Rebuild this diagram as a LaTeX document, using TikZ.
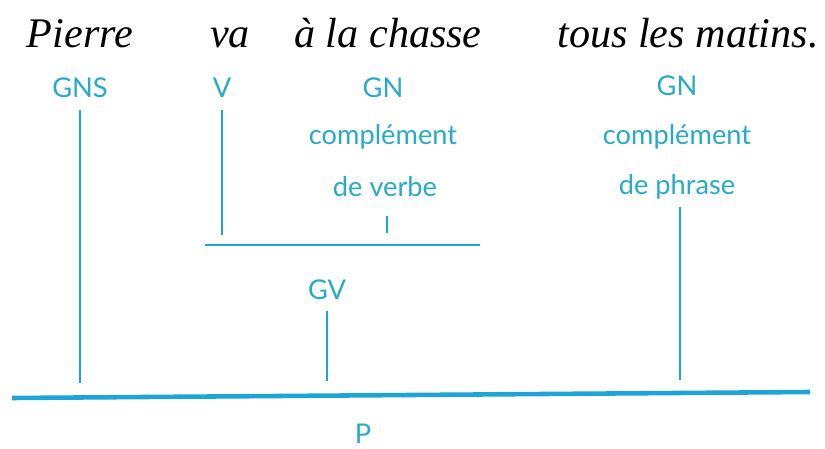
\documentclass[tikz,border=0pt]{standalone}
\usepackage{fontspec}
\setmainfont{Liberation Serif}
\newfontfamily\tagfont{Lato}
\usetikzlibrary{positioning}
\definecolor{tagcyan}{RGB}{40,170,200}
\definecolor{linecyan}{RGB}{30,165,215}

\begin{document}
\begin{tikzpicture}[
  x=0.02cm, y=-0.02cm,
  word/.style={font=\itshape\fontsize{24}{27}\selectfont, anchor=base},
  tag/.style={font=\tagfont\fontsize{15.5}{18}\selectfont, text=tagcyan, inner sep=1pt},
  branch/.style={draw=linecyan, line width=1.1pt},
  bar/.style={draw=linecyan, line width=1.7pt},
  trunk/.style={draw=linecyan, line width=2.6pt}
]
\useasboundingbox (0,0) rectangle (825,449);
% sentence
\node[word] (pierre) at (80,48) {Pierre};
\node[word] (va) at (230,48) {va};
\node[word] (chasse) at (388,48) {à la chasse};
\node[word] (matins) at (688,48) {tous les matins.};
% groups
\node[tag] (gns) at (80,88) {GNS};
\node[tag] (v) at (222,88) {V};
\node[tag] (gncv) at (383,88) {GN};
\node[tag] (cv1) at (383,137) {complément};
\node[tag] (cv2) at (385,187) {de verbe};
\node[tag] (gncp) at (677,86) {GN};
\node[tag] (cp1) at (677,137) {complément};
\node[tag] (cp2) at (677,187) {de phrase};
\node[tag] (gv) at (327,290) {GV};
\node[tag] (p) at (363,434) {P};
% bars
\coordinate (gvbar-l) at (205,245);
\coordinate (gvbar-r) at (480,245);
\coordinate (pbar-l) at (12,398);
\coordinate (pbar-r) at (810,392);
\draw[bar] (gvbar-l) -- (gvbar-r);
\draw[trunk] (pbar-l) -- (pbar-r);
% branches
\coordinate (gns-end) at (80,383);
\coordinate (v-end) at (222,235);
\coordinate (cv-end) at (387,233);
\coordinate (gv-end) at (327,381);
\coordinate (cp-end) at (680,380);
\draw[branch] (80,110) -- (gns-end);
\draw[branch] (222,110) -- (v-end);
\draw[branch] (387,216) -- (cv-end);
\draw[branch] (327,311) -- (gv-end);
\draw[branch] (680,207) -- (cp-end);
\end{tikzpicture}
\end{document}
